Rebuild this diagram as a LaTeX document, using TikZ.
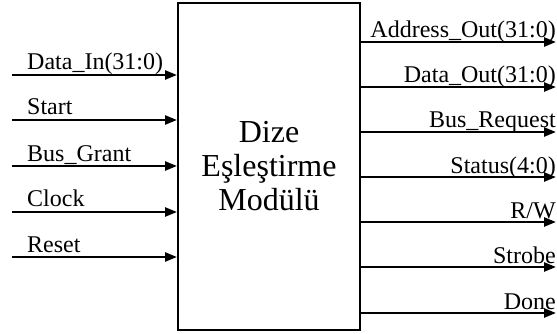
\documentclass[tikz,border=0pt]{standalone}
\usepackage{fontspec}
\setmainfont{Liberation Serif}
\usetikzlibrary{arrows.meta}
\begin{document}
\begin{tikzpicture}[x=1pt,y=-1pt,
  sig/.style={line width=2.4pt,-{Triangle[length=12pt,width=9pt]}},
  lbl/.style={inner sep=0pt,font=\fontsize{24}{28}\selectfont},
  modbox/.style={draw,line width=2pt,inner sep=0pt,align=center,font=\fontsize{32}{34}\selectfont}]
\useasboundingbox (0,0) rectangle (557,334);
\node[modbox,minimum width=182pt,minimum height=327pt] (box) at (269,166.5) {Dize\\Eşleştirme\\Modülü};
% inputs
\foreach \n/\y/\t in {i1/75/{Data\_In(31:0)},i2/120/Start,i3/166/{Bus\_Grant},i4/212/Clock,i5/257/Reset}{
  \coordinate (\n) at (12,\y);
  \node[lbl,anchor=base west] (\n l) at (27,\y-5) {\t};
  \draw[sig] (\n) -- (\n -| box.west);
}
% outputs
\foreach \n/\y/\t in {o1/42/{Address\_Out(31:0)},o2/87/{Data\_Out(31:0)},o3/132/{Bus\_Request},o4/177/{Status(4:0)},o5/222/{R/W},o6/267/Strobe,o7/313/Done}{
  \coordinate (\n) at (556,\y);
  \node[lbl,anchor=base east] (\n l) at (556,\y-4) {\t};
  \draw[sig] (\n -| box.east) -- (\n);
}
\end{tikzpicture}
\end{document}
